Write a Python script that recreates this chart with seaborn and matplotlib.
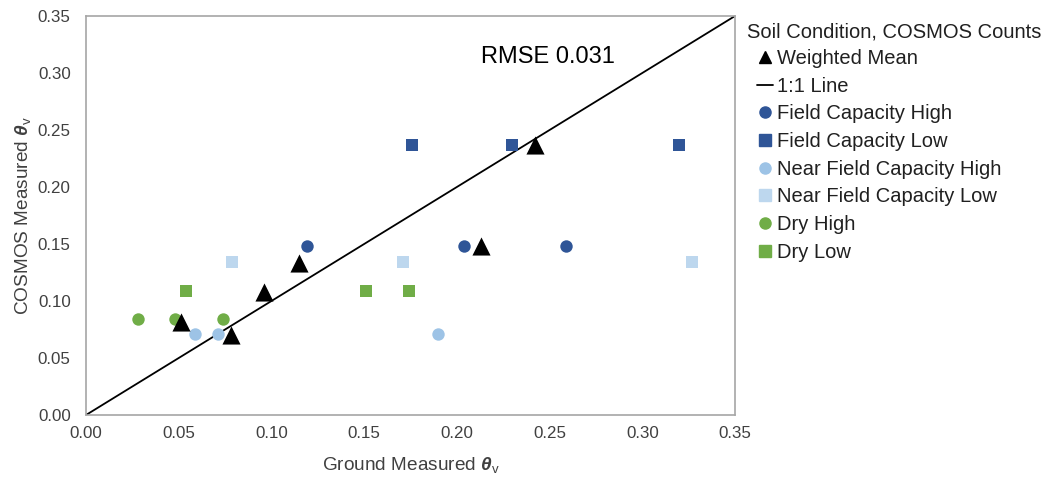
import matplotlib
matplotlib.use("Agg")
import matplotlib.pyplot as plt
import seaborn as sns
from matplotlib.lines import Line2D

sns.set_theme(style="white")
plt.rcParams['font.family'] = ['Liberation Sans', 'DejaVu Sans']
plt.rcParams['mathtext.fontset'] = 'custom'
plt.rcParams['mathtext.rm'] = 'Liberation Sans'
plt.rcParams['mathtext.it'] = 'Liberation Sans:italic'
plt.rcParams['mathtext.bf'] = 'Liberation Sans:bold'
plt.rcParams['mathtext.bfit'] = 'Liberation Sans:italic:bold'

# Data
fc_high_x = [0.119, 0.204, 0.259]
fc_high_y = [0.148, 0.148, 0.148]
fc_low_x = [0.176, 0.230, 0.320]
fc_low_y = [0.237, 0.237, 0.237]
nfc_high_x = [0.059, 0.071, 0.190]
nfc_high_y = [0.071, 0.071, 0.071]
nfc_low_x = [0.079, 0.171, 0.327]
nfc_low_y = [0.134, 0.134, 0.134]
dry_high_x = [0.028, 0.048, 0.074]
dry_high_y = [0.084, 0.084, 0.084]
dry_low_x = [0.054, 0.151, 0.174]
dry_low_y = [0.109, 0.109, 0.109]
wm_x = [0.051, 0.078, 0.096, 0.115, 0.213, 0.242]
wm_y = [0.082, 0.070, 0.108, 0.133, 0.148, 0.237]
line_x = [0.0, 0.35]
line_y = [0.0, 0.35]
rmse_label = "RMSE 0.031"
legend_title = "Soil Condition, COSMOS Counts"

series = [
    ("Field Capacity High", fc_high_x, fc_high_y, "#2F5597", "o", 80),
    ("Field Capacity Low", fc_low_x, fc_low_y, "#2F5597", "s", 80),
    ("Near Field Capacity High", nfc_high_x, nfc_high_y, "#9DC3E6", "o", 80),
    ("Near Field Capacity Low", nfc_low_x, nfc_low_y, "#BDD7EE", "s", 80),
    ("Dry High", dry_high_x, dry_high_y, "#70AD47", "o", 80),
    ("Dry Low", dry_low_x, dry_low_y, "#70AD47", "s", 80),
]

W, H = 1052, 479
fig = plt.figure(figsize=(W / 100, H / 100), dpi=100)
ax = fig.add_axes([86 / W, 1 - 415 / H, (735 - 86) / W, (415 - 16) / H])

sns.lineplot(x=line_x, y=line_y, ax=ax, color="black", linewidth=1.3, zorder=1)
for name, xs, ys, c, m, s in series:
    sns.scatterplot(x=xs, y=ys, ax=ax, color=c, marker=m, s=s, linewidth=0, zorder=3)
sns.scatterplot(x=wm_x, y=wm_y, ax=ax, color="black", marker="^", s=170, linewidth=0, zorder=4)

ax.set_xlim(0, 0.35)
ax.set_ylim(0, 0.35)
ticks = [0.0, 0.05, 0.10, 0.15, 0.20, 0.25, 0.30, 0.35]
ax.set_xticks(ticks)
ax.set_yticks(ticks)
ax.set_xticklabels([f"{t:.2f}" for t in ticks], fontsize=12.2, color="#404040")
ax.set_yticklabels([f"{t:.2f}" for t in ticks], fontsize=12.2, color="#404040")
ax.tick_params(axis="x", length=0, pad=8)
ax.tick_params(axis="y", length=0, pad=11)
for sp in ax.spines.values():
    sp.set_color("#A6A6A6")
    sp.set_linewidth(1.2)

ax.set_xlabel(r"Ground Measured $\boldsymbol{\theta}_\mathrm{v}$", fontsize=13.7, color="#404040", labelpad=10)
ax.set_ylabel(r"COSMOS Measured $\boldsymbol{\theta}_\mathrm{v}$", fontsize=13.7, color="#404040", labelpad=3.5)

ax.text(0.213, 0.314, rmse_label, fontsize=17, color="black", ha="left", va="center")

handles = [
    Line2D([], [], marker="^", color="black", linestyle="none", markersize=8),
    Line2D([], [], color="black", linewidth=1.3),
]
labels = ["Weighted Mean", "1:1 Line"]
for name, xs, ys, c, m, s in series:
    handles.append(Line2D([], [], marker=m, color=c, linestyle="none", markersize=8))
    labels.append(name)

fig.text(747 / W, 1 - 32 / H, legend_title, fontsize=14.5, color="#202020", ha="left", va="center")
leg = fig.legend(handles, labels,
                 loc="upper left", bbox_to_anchor=(757 / W, 1 - 49 / H),
                 frameon=False, fontsize=14.5,
                 handlelength=0.8, handletextpad=0.2, labelspacing=0.43,
                 borderaxespad=0, borderpad=0)
for t in leg.get_texts():
    t.set_color("#202020")

fig.savefig("out.png", dpi=100)
